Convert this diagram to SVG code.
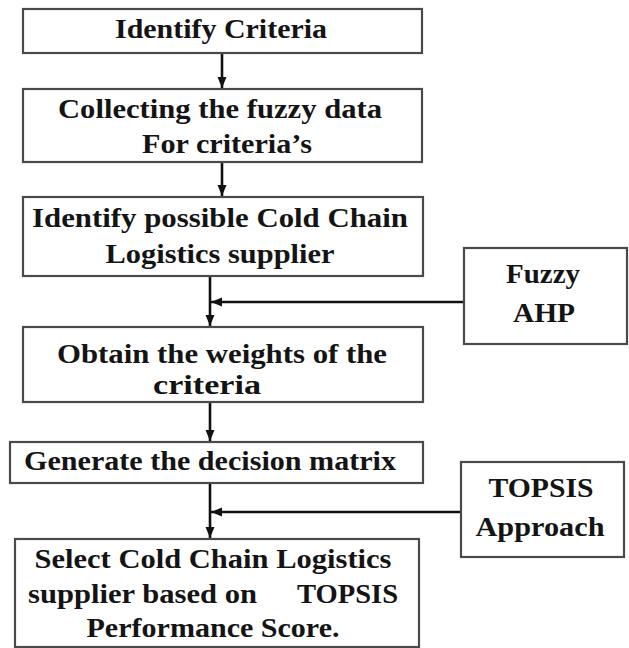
<svg xmlns="http://www.w3.org/2000/svg" width="629" height="648" viewBox="0 0 629 648">
<defs>
<style>
.box{fill:#fff;stroke:#4a4a4a;stroke-width:2.2}
.t{font-family:'Liberation Serif', Tinos, 'Times New Roman', Times, serif;font-weight:700;font-size:28px;fill:#141414;text-anchor:middle}
.c{stroke:#111;stroke-width:2.6;fill:none}
</style>
<marker id="ah" markerUnits="userSpaceOnUse" markerWidth="12" markerHeight="12" viewBox="0 0 12 12" refX="11" refY="6" orient="auto">
<path d="M0,1.5 L11,6 L0,10.5 Z" fill="#111"/>
</marker>
</defs>
<rect width="629" height="648" fill="#fff"/>
<g id="connectors">
<line class="c" x1="222" y1="54" x2="222" y2="88" marker-end="url(#ah)"/>
<line class="c" x1="222" y1="163" x2="222" y2="196" marker-end="url(#ah)"/>
<line class="c" x1="210" y1="277" x2="210" y2="326" marker-end="url(#ah)"/>
<line class="c" x1="463" y1="302" x2="211" y2="302" marker-end="url(#ah)"/>
<line class="c" x1="210" y1="403" x2="210" y2="441" marker-end="url(#ah)"/>
<line class="c" x1="210" y1="484" x2="210" y2="538" marker-end="url(#ah)"/>
<line class="c" x1="460" y1="512" x2="211" y2="512" marker-end="url(#ah)"/>
</g>
<g id="identify-criteria">
<rect class="box" x="23" y="9" width="399" height="44"/>
<text class="t" x="221" y="38" textLength="212" lengthAdjust="spacingAndGlyphs">Identify Criteria</text>
</g>
<g id="collecting-data">
<rect class="box" x="23" y="89" width="399" height="73"/>
<text class="t" x="220" y="118" textLength="324" lengthAdjust="spacingAndGlyphs">Collecting the fuzzy data</text>
<text class="t" x="227" y="153" textLength="170" lengthAdjust="spacingAndGlyphs">For criteria’s</text>
</g>
<g id="identify-supplier">
<rect class="box" x="23" y="197" width="400" height="79"/>
<text class="t" x="220" y="227" textLength="376" lengthAdjust="spacingAndGlyphs">Identify possible Cold Chain</text>
<text class="t" x="220" y="263" textLength="229" lengthAdjust="spacingAndGlyphs">Logistics supplier</text>
</g>
<g id="fuzzy-ahp">
<rect class="box" x="464" y="248" width="163" height="96"/>
<text class="t" x="543" y="283" textLength="74" lengthAdjust="spacingAndGlyphs">Fuzzy</text>
<text class="t" x="544" y="322" textLength="62" lengthAdjust="spacingAndGlyphs">AHP</text>
</g>
<g id="obtain-weights">
<rect class="box" x="23" y="327" width="400" height="75"/>
<text class="t" x="222" y="363" textLength="330" lengthAdjust="spacingAndGlyphs">Obtain the weights of the</text>
<text class="t" x="207" y="394" textLength="108" lengthAdjust="spacingAndGlyphs">criteria</text>
</g>
<g id="decision-matrix">
<rect class="box" x="10" y="442" width="413" height="41"/>
<text class="t" x="210" y="470" textLength="372" lengthAdjust="spacingAndGlyphs">Generate the decision matrix</text>
</g>
<g id="topsis">
<rect class="box" x="461" y="462" width="163" height="95"/>
<text class="t" x="541" y="497" textLength="105" lengthAdjust="spacingAndGlyphs">TOPSIS</text>
<text class="t" x="540" y="536" textLength="129" lengthAdjust="spacingAndGlyphs">Approach</text>
</g>
<g id="select-supplier">
<rect class="box" x="15" y="539" width="404" height="108"/>
<text class="t" x="213" y="568" textLength="357" lengthAdjust="spacingAndGlyphs">Select Cold Chain Logistics</text>
<text class="t" style="text-anchor:start"><tspan x="28" y="603" textLength="229" lengthAdjust="spacingAndGlyphs">supplier based on</tspan><tspan x="297" y="603" textLength="101" lengthAdjust="spacingAndGlyphs">TOPSIS</tspan></text>
<text class="t" x="213" y="637" textLength="253" lengthAdjust="spacingAndGlyphs">Performance Score.</text>
</g>
</svg>
